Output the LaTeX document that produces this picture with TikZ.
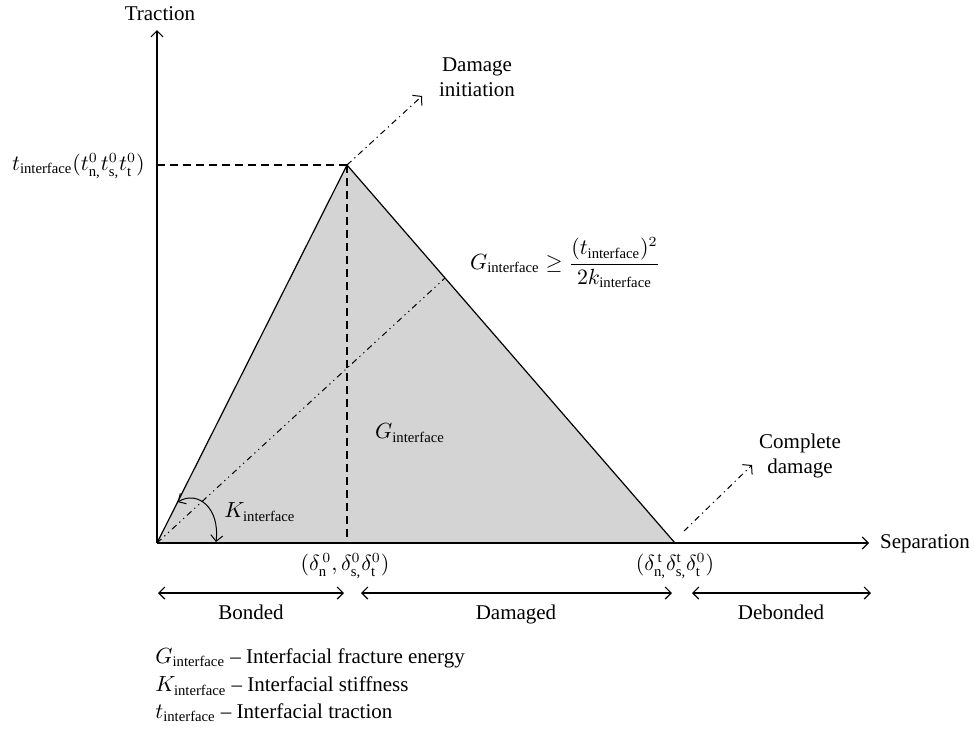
\documentclass[tikz,border=0pt]{standalone}
\usepackage{amsmath}
\usepackage{fontspec}
\setmainfont{Liberation Serif}
\usetikzlibrary{arrows.meta}
\definecolor{fillgray}{RGB}{212,212,212}
\tikzset{
  ln/.style={line width=0.6pt},
  tip/.style={-{Straight Barb[length=3pt,width=6pt]}},
  dtip/.style={{Straight Barb[length=3pt,width=6pt]}-{Straight Barb[length=3pt,width=6pt]}},
  guide/.style={ln, dash pattern=on 4pt off 2.5pt},
  dashdot/.style={line width=0.5pt, dash pattern=on 3pt off 2pt on 0.6pt off 2pt},
  dashdotdot/.style={line width=0.5pt, dash pattern=on 3pt off 2pt on 0.6pt off 2pt on 0.6pt off 2pt},
  lbl/.style={inner sep=0pt, font=\fontsize{10.5}{12.6}\selectfont},
}
\begin{document}
\begin{tikzpicture}[x=0.5pt,y=-0.5pt]
\useasboundingbox (0,0) rectangle (974,740);
% key points
\coordinate (O) at (157,543);
\coordinate (P) at (347,165);
\coordinate (C) at (675,543);
\coordinate (H) at (445,278);
\coordinate (Ytop) at (157,30);
\coordinate (Xend) at (869,543);
\coordinate (Pfoot) at (347,543);
\coordinate (Tleft) at (157,165);
\coordinate (DIend) at (422,96);
\coordinate (CDstart) at (684,531);
\coordinate (CDend) at (752,465);
\coordinate (Ka) at (177.6,502);
\coordinate (Kb) at (216,542);
% shaded triangle
\fill[fillgray] (O) -- (P) -- (C) -- cycle;
\draw[ln] (O) -- (P) -- (C);
% guides
\draw[guide] (Tleft) -- (P);
\draw[guide] (P) -- (Pfoot);
\draw[dashdotdot] (O) -- (H);
% axes
\draw[ln,tip] (O) -- (Ytop);
\draw[ln,tip] (O) -- (Xend);
% stiffness arc
\draw[line width=0.5pt,dtip] (Ka) .. controls (198,490) and (220,508) .. (Kb);
% damage arrows
\draw[dashdot,-{Straight Barb[length=3pt,width=7pt]}] (P) -- (DIend);
\draw[dashdot,-{Straight Barb[length=3pt,width=7pt]}] (CDstart) -- (CDend);
% labels
\node[lbl,anchor=base] (trac) at (160,20) {Traction};
\node[lbl,anchor=base] (sep) at (925,548) {Separation};
\node[lbl,anchor=east] (tlab) at (145,166) {$t_{\text{interface}}(t^{0}_{\text{n,}}t^{0}_{\text{s,}}t^{0}_{\text{t}})$};
\node[lbl,align=center] (di) at (477,77) {Damage\\initiation};
\node[lbl,align=center] (cd) at (800,456) {Complete\\damage};
\node[lbl] (form) at (565,263) {$G_{\text{interface}}\geq\dfrac{(t_{\text{interface}})^{2}}{2k_{\text{interface}}}$};
\node[lbl] (glab) at (410,433) {$G_{\text{interface}}$};
\node[lbl] (klab) at (260,512) {$K_{\text{interface}}$};
\node[lbl] (d0) at (345,566) {$(\delta^{\,0}_{\text{n}},\delta^{0}_{\text{s,}}\delta^{0}_{\text{t}})$};
\node[lbl] (dt) at (675,566) {$(\delta^{\,\text{t}}_{\text{n,}}\delta^{\text{t}}_{\text{s,}}\delta^{0}_{\text{t}})$};
% region arrows
\coordinate (B1) at (158,593); \coordinate (B2) at (344,593);
\coordinate (D1) at (361,593); \coordinate (D2) at (672,593);
\coordinate (E1) at (692,593); \coordinate (E2) at (871,593);
\draw[ln,dtip] (B1) -- (B2);
\draw[ln,dtip] (D1) -- (D2);
\draw[ln,dtip] (E1) -- (E2);
\node[lbl,anchor=base] (bond) at (251,619) {Bonded};
\node[lbl,anchor=base] (dam) at (516,619) {Damaged};
\node[lbl,anchor=base] (deb) at (781,619) {Debonded};
% legend
\node[lbl,anchor=west] (lg1) at (155,658) {$G_{\text{interface}}$ -- Interfacial fracture energy};
\node[lbl,anchor=west] (lg2) at (155,686) {$K_{\text{interface}}$ -- Interfacial stiffness};
\node[lbl,anchor=west] (lg3) at (155,713) {$t_{\text{interface}}$ -- Interfacial traction};
\end{tikzpicture}
\end{document}
